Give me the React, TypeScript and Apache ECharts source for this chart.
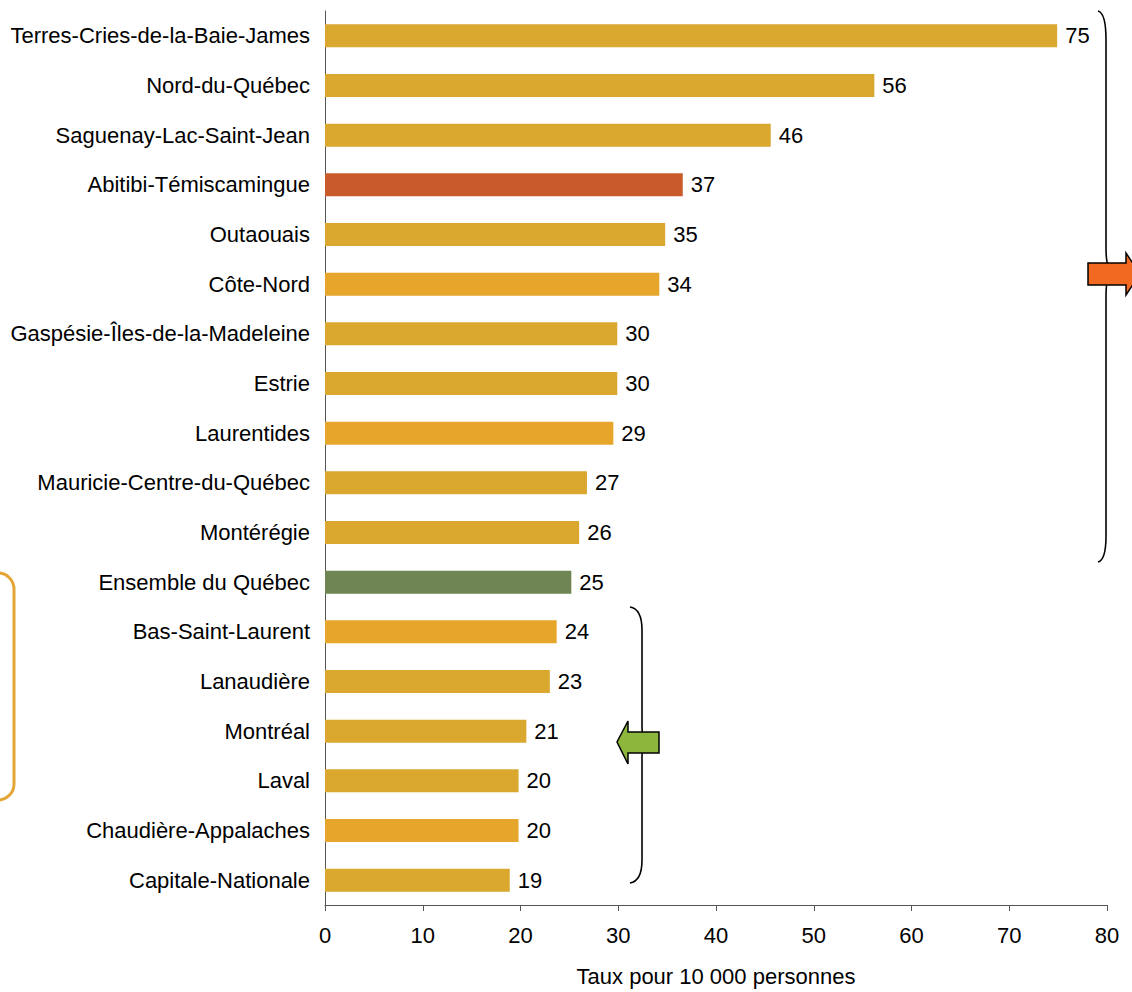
import React, { useEffect, useRef } from "react";
import * as echarts from "echarts";

const categories = [
  "Terres-Cries-de-la-Baie-James",
  "Nord-du-Québec",
  "Saguenay-Lac-Saint-Jean",
  "Abitibi-Témiscamingue",
  "Outaouais",
  "Côte-Nord",
  "Gaspésie-Îles-de-la-Madeleine",
  "Estrie",
  "Laurentides",
  "Mauricie-Centre-du-Québec",
  "Montérégie",
  "Ensemble du Québec",
  "Bas-Saint-Laurent",
  "Lanaudière",
  "Montréal",
  "Laval",
  "Chaudière-Appalaches",
  "Capitale-Nationale",
];

const values = [74.9, 56.2, 45.6, 36.6, 34.8, 34.2, 29.9, 29.9, 29.5, 26.8, 26.0, 25.2, 23.7, 23.0, 20.6, 19.8, 19.8, 18.9];
const valueLabels = ["75", "56", "46", "37", "35", "34", "30", "30", "29", "27", "26", "25", "24", "23", "21", "20", "20", "19"];
// colour kind per bar: g = gold, o = orange, r = red, v = green
const colorKinds = ["g", "g", "g", "r", "g", "o", "g", "g", "o", "g", "g", "v", "o", "g", "g", "g", "o", "g"];

const xTicks = [0, 10, 20, 30, 40, 50, 60, 70, 80];
const axisName = "Taux pour 10 000 personnes";

const palette: Record<string, string> = {
  g: "#DAA72F",
  o: "#E6A62B",
  r: "#C95B2B",
  v: "#708554",
};

const FONT = "'Liberation Sans', Arial, sans-serif";
const FS = 22;

export default function App() {
  const ref = useRef<HTMLDivElement>(null);
  useEffect(() => {
    if (!ref.current) return;
    echarts.graphic.registerShape(
      "braceRight",
      echarts.graphic.extendPath(
        "M1098,11 Q1106,13 1106,40 L1106,248 Q1106,270 1113,272 Q1106,274 1106,296 L1106,536 Q1106,560 1098,562",
        {}
      )
    );
    echarts.graphic.registerShape(
      "braceLeft",
      echarts.graphic.extendPath(
        "M630,607 Q642,609 642,630 L642,728 Q642,740 648,742 Q642,744 642,756 L642,860 Q642,881 630,883",
        {}
      )
    );
    const chart = echarts.init(ref.current, null, { renderer: "svg" });
    chart.setOption({
      animation: false,
      grid: { left: 325, right: 25, top: 11, bottom: 87, containLabel: false },
      xAxis: {
        type: "value",
        min: 0,
        max: 80,
        interval: 10,
        splitLine: { show: false },
        axisLine: { show: true, lineStyle: { color: "#555", width: 1 } },
        axisTick: { show: true, length: 6, lineStyle: { color: "#555" } },
        axisLabel: {
          color: "#000",
          fontSize: FS,
          fontFamily: FONT,
          margin: 19,
          formatter: (v: number) => (xTicks.includes(v) ? String(v) : ""),
        },
        name: axisName,
        nameLocation: "middle",
        nameGap: 60,
        nameTextStyle: { color: "#000", fontSize: FS, fontFamily: FONT },
      },
      yAxis: {
        type: "category",
        data: categories,
        inverse: true,
        axisLine: { show: true, lineStyle: { color: "#555", width: 1 } },
        axisTick: { show: false },
        axisLabel: { color: "#000", fontSize: FS, fontFamily: FONT, margin: 15 },
      },
      series: [
        {
          type: "bar",
          barWidth: 23,
          data: values.map((v, i) => ({
            value: v,
            itemStyle: { color: palette[colorKinds[i]] },
          })),
          label: {
            show: true,
            position: "right",
            distance: 8,
            color: "#000",
            fontSize: FS,
            fontFamily: FONT,
            formatter: (p: any) => valueLabels[p.dataIndex],
          },
        },
      ],
      graphic: [
        {
          type: "rect",
          shape: { x: -30, y: 573, width: 44, height: 227, r: 16 },
          style: { fill: "none", stroke: "#E3A535", lineWidth: 3 },
        },
        {
          type: "braceRight",
          x: 0,
          y: 0,
          style: { fill: "none", stroke: "#000", lineWidth: 1.6 },
        },
        {
          type: "braceLeft",
          x: 0,
          y: 0,
          style: { fill: "none", stroke: "#000", lineWidth: 1.6 },
        },
        {
          type: "polygon",
          shape: {
            points: [
              [1088, 263],
              [1126, 263],
              [1126, 253],
              [1140, 274],
              [1126, 295],
              [1126, 285],
              [1088, 285],
            ],
          },
          style: { fill: "#F26A22", stroke: "#000", lineWidth: 1.5 },
        },
        {
          type: "polygon",
          shape: {
            points: [
              [659, 732],
              [628, 732],
              [628, 721],
              [617, 742],
              [628, 764],
              [628, 753],
              [659, 753],
            ],
          },
          style: { fill: "#8DB63C", stroke: "#000", lineWidth: 1.5 },
        },
      ],
    });
    return () => chart.dispose();
  }, []);
  return (
    <div
      ref={ref}
      style={{ position: "fixed", left: 0, top: 0, width: 1132, height: 992, background: "#fff" }}
    />
  );
}
